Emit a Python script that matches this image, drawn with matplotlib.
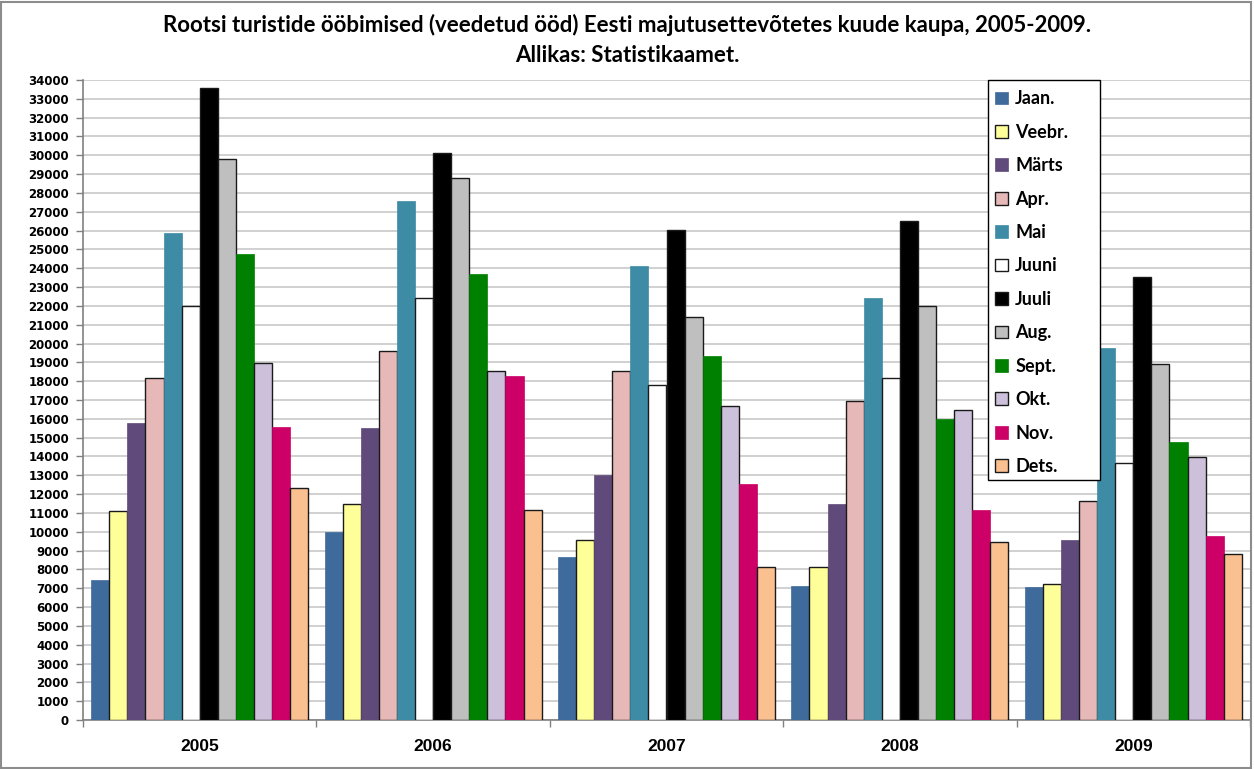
import matplotlib
matplotlib.use("Agg")
import matplotlib.pyplot as plt
import numpy as np
from matplotlib.patches import Rectangle

years = ["2005", "2006", "2007", "2008", "2009"]
months = ["Jaan.", "Veebr.", "Märts", "Apr.", "Mai", "Juuni", "Juuli",
          "Aug.", "Sept.", "Okt.", "Nov.", "Dets."]

jaan = [7450, 10000, 8650, 7100, 7050]
veebr = [11100, 11450, 9550, 8150, 7250]
marts = [15800, 15500, 13000, 11500, 9550]
apr = [18150, 19600, 18550, 16950, 11650]
mai = [25850, 27550, 24100, 22400, 19750]
juuni = [22000, 22400, 17800, 18150, 13650]
juuli = [33550, 30100, 26050, 26500, 23550]
aug = [29800, 28800, 21400, 22000, 18900]
sept = [24750, 23700, 19350, 16000, 14750]
okt = [18950, 18550, 16700, 16450, 13950]
nov = [15550, 18250, 12550, 11150, 9800]
dets = [12300, 11150, 8150, 9450, 8800]

series = [jaan, veebr, marts, apr, mai, juuni, juuli, aug, sept, okt, nov, dets]
colors = ["#3f6a9c", "#ffff99", "#604a7b", "#e6b8b7", "#3d8ba5", "#ffffff",
          "#000000", "#bfbfbf", "#008000", "#ccc0da", "#cc0066", "#fac090"]
edged = [False, True, False, True, False, True, True, True, False, True, False, True]

W, H = 1254, 769
fig = plt.figure(figsize=(W/100, H/100), dpi=100)
ax = fig.add_axes([83/W, 49/H, (1250-83)/W, (720-80)/H])

n = len(series)
group_w = 0.93
bw = group_w / n
x = np.arange(len(years))
for i, (vals, c, e) in enumerate(zip(series, colors, edged)):
    pos = x - group_w/2 + bw*(i+0.5)
    ax.bar(pos, vals, width=bw, color=c,
           edgecolor="#1a1a1a" if e else c,
           linewidth=1.0 if e else 0.5, label=months[i], zorder=3)

ax.set_xlim(-0.5, len(years)-0.5)
ax.set_ylim(0, 34000)
ax.set_yticks(np.arange(0, 34001, 1000))
ax.set_yticklabels([str(v) for v in range(0, 34001, 1000)],
                   fontsize=8.5, fontweight="bold", family="DejaVu Sans")
ax.yaxis.grid(True, color="#c8c8c8", linewidth=1.2, zorder=0)
ax.set_axisbelow(True)

ax.set_xticks(x)
ax.set_xticklabels(years, fontsize=12.5, fontweight="bold", family="Liberation Sans")
ax.set_xticks(np.arange(-0.5, len(years), 1), minor=True)
ax.tick_params(axis="x", which="major", length=0, pad=14)
ax.tick_params(axis="x", which="minor", length=5, color="#808080", width=1)
ax.tick_params(axis="y", length=5, color="#808080", width=1, pad=5)

for s in ["top", "right"]:
    ax.spines[s].set_visible(False)
for s in ["left", "bottom"]:
    ax.spines[s].set_color("#808080")
    ax.spines[s].set_linewidth(1.2)

fig.text(0.5, 1 - 25/H, "Rootsi turistide ööbimised (veedetud ööd) Eesti majutusettevõtetes kuude kaupa, 2005-2009.",
         ha="center", va="center", fontsize=16, fontweight="bold", family="Lato")
fig.text(0.5, 1 - 56/H, "Allikas: Statistikaamet.",
         ha="center", va="center", fontsize=16, fontweight="bold", family="Lato")

# legend frame box (Excel-style, wider than its content)
fig.patches.append(Rectangle((988/W, 1 - 480/H), (1100-988)/W, (480-80)/H,
                             transform=fig.transFigure, facecolor="white",
                             edgecolor="black", linewidth=1.0, zorder=4))
leg = fig.legend(*ax.get_legend_handles_labels(), loc="upper left",
                 bbox_to_anchor=(988/W, 1 - 83/H),
                 frameon=False,
                 prop={"family": "Lato", "weight": "bold", "size": 13},
                 handlelength=0.7, handleheight=0.7, handletextpad=0.4,
                 labelspacing=0.91, borderpad=0.4, borderaxespad=0)
leg.set_zorder(6)

fig.patches.append(Rectangle((0.001, 0.001), 0.997, 0.997, transform=fig.transFigure,
                             fill=False, edgecolor="#8c8c8c", linewidth=1.5))

fig.savefig("out.png", dpi=100)
